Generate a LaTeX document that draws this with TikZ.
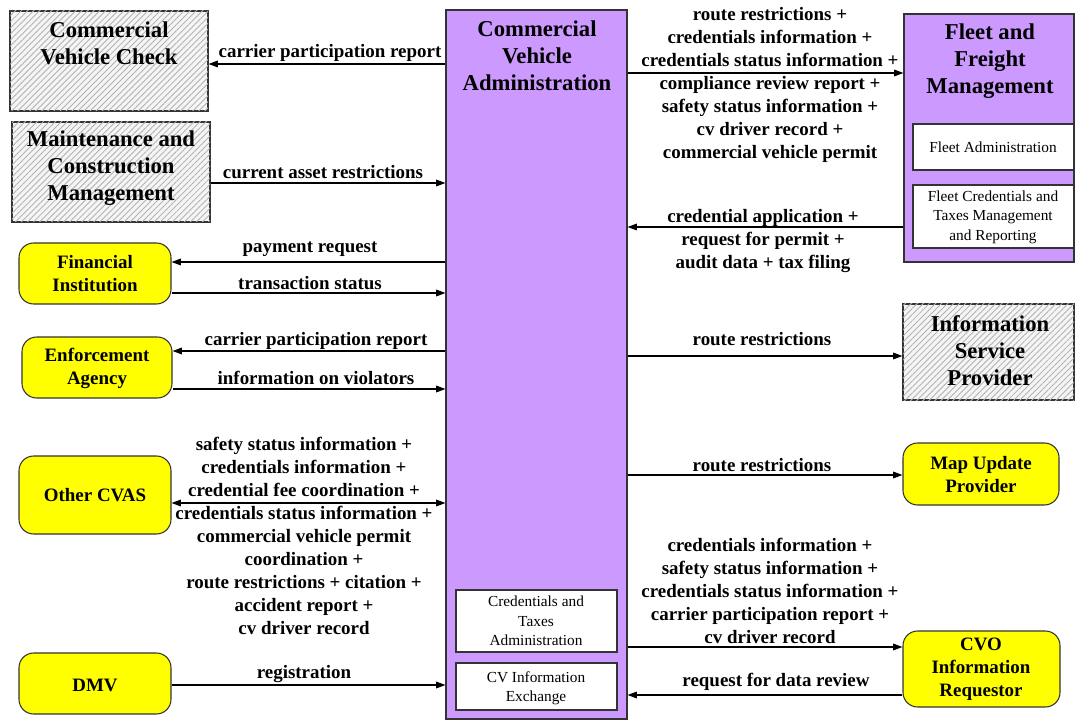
\documentclass[tikz,border=0pt]{standalone}
\usepackage{fontspec}
\setmainfont{Liberation Serif}
\usetikzlibrary{arrows.meta,patterns.meta,fit}
\definecolor{cvapurple}{RGB}{204,153,255}
\definecolor{termyellow}{RGB}{255,255,0}
\definecolor{hatchgray}{RGB}{178,178,178}

\begin{document}
\begin{tikzpicture}[x=0.75pt,y=-0.75pt,
  every node/.style={inner sep=0pt},
  boxline/.style={draw=black!80, line width=0.8pt},
  hatchbox/.style={boxline, fill=black!4,
    postaction={pattern={Lines[angle=45,distance=3.2pt,line width=0.65pt]}, pattern color=hatchgray}},
  purplebox/.style={boxline, fill=cvapurple},
  termbox/.style={boxline, fill=termyellow, rounded corners=11pt},
  subbox/.style={boxline, fill=white},
  titlefont/.style={font=\fontsize{17}{20.25}\selectfont\bfseries, align=center},
  labelfont/.style={font=\fontsize{14.2}{17.25}\selectfont\bfseries, align=center},
  subfont/.style={font=\fontsize{11.5}{14.6}\selectfont, align=center},
  flow/.style={line width=0.8pt, -{Triangle[length=7pt,width=5pt]}},
  dflow/.style={line width=0.8pt, {Triangle[length=7pt,width=5pt]}-{Triangle[length=7pt,width=5pt]}}
]
\useasboundingbox (0,0) rectangle (1075,720);

% ---------- central element ----------
\node[purplebox, fit={(446,10) (627,719)}] (cva) {};
\node[titlefont] (cvat) at (537,56) {Commercial\\Vehicle\\Administration};
\node[subbox, fit={(456,590) (617,652)}] (cta) {};
\node[subfont] (ctat) at (536,621) {Credentials and\\Taxes\\Administration};
\node[subbox, fit={(456,663) (617,710)}] (cvie) {};
\node[subfont] (cviet) at (536,688) {CV Information\\Exchange};

% ---------- left side ----------
\node[hatchbox, fit={(10,11) (208,111)}] (cvc) {};
\node[titlefont] (cvct) at (109,43) {Commercial\\Vehicle Check};
\node[hatchbox, fit={(12,122) (210,222)}] (mcm) {};
\node[titlefont] (mcmt) at (111,168) {Maintenance and\\Construction\\Management};

\node[termbox, fit={(19,243) (171,304)}] (fi) {};
\node[labelfont] (fit) at (95,274) {Financial\\Institution};
\node[termbox, fit={(22,337) (172,398)}] (ea) {};
\node[labelfont] (eat) at (97,368) {Enforcement\\Agency};
\node[termbox, fit={(19,456) (171,534)}] (ocvas) {};
\node[labelfont] (ocvast) at (95,495) {Other CVAS};
\node[termbox, fit={(19,653) (171,714)}] (dmv) {};
\node[labelfont] (dmvt) at (95,685) {DMV};

% ---------- right side ----------
\node[purplebox, fit={(904,14) (1074,262)}] (ffm) {};
\node[titlefont] (ffmt) at (990,61) {Fleet and\\Freight\\Management};
\node[subbox, fit={(913,124) (1074,170)}] (fa) {};
\node[subfont] (fat) at (993,147) {Fleet Administration};
\node[subbox, fit={(913,185) (1074,248)}] (fctm) {};
\node[subfont] (fctmt) at (993,217) {Fleet Credentials and\\Taxes Management\\and Reporting};

\node[hatchbox, fit={(903,304) (1074,400)}] (isp) {};
\node[titlefont] (ispt) at (990,351) {Information\\Service\\Provider};
\node[termbox, fit={(903,443) (1059,505)}] (mup) {};
\node[labelfont] (mupt) at (981,475) {Map Update\\Provider};
\node[termbox, fit={(903,631) (1060,707)}] (cvo) {};
\node[labelfont] (cvot) at (981,669) {CVO\\Information\\Requestor};

% ---------- flows, left side ----------
\draw[flow] (cva.west |- 0,64) -- (cvc.east |- 0,64);
\node[labelfont] (l1) at (330,53) {carrier participation report};
\draw[flow] (mcm.east |- 0,183) -- (cva.west |- 0,183);
\node[labelfont] (l2) at (323,172) {current asset restrictions};
\draw[flow] (cva.west |- 0,262) -- (fi.east |- 0,262);
\node[labelfont] (l3) at (310,249) {payment request};
\draw[flow] (fi.east |- 0,293) -- (cva.west |- 0,293);
\node[labelfont] (l4) at (310,283) {transaction status};
\draw[flow] (cva.west |- 0,351) -- (ea.east |- 0,351);
\node[labelfont] (l5) at (316,341) {carrier participation report};
\draw[flow] (ea.east |- 0,389) -- (cva.west |- 0,389);
\node[labelfont] (l6) at (316,378) {information on violators};
\draw[dflow] (ocvas.east |- 0,503) -- (cva.west |- 0,503);
\node[labelfont] (l7) at (304,536) {safety status information +\\credentials information +\\credential fee coordination +\\credentials status information +\\commercial vehicle permit\\coordination +\\route restrictions + citation +\\accident report +\\cv driver record};
\draw[flow] (dmv.east |- 0,685) -- (cva.west |- 0,685);
\node[labelfont] (l8) at (304,674) {registration};

% ---------- flows, right side ----------
\draw[flow] (cva.east |- 0,73) -- (ffm.west |- 0,73);
\node[labelfont] (r1) at (770,85) {route restrictions +\\credentials information +\\credentials status information +\\compliance review report +\\safety status information +\\cv driver record +\\commercial vehicle permit};
\draw[flow] (ffm.west |- 0,227) -- (cva.east |- 0,227);
\node[labelfont] (r2) at (763,241) {credential application +\\request for permit +\\audit data + tax filing};
\draw[flow] (cva.east |- 0,356) -- (isp.west |- 0,356);
\node[labelfont] (r3) at (762,339) {route restrictions};
\draw[flow] (cva.east |- 0,475) -- (mup.west |- 0,475);
\node[labelfont] (r4) at (762,465) {route restrictions};
\draw[flow] (cva.east |- 0,647) -- (cvo.west |- 0,647);
\node[labelfont] (r5) at (770,591) {credentials information +\\safety status information +\\credentials status information +\\carrier participation report +\\cv driver record};
\draw[flow] (cvo.west |- 0,695) -- (cva.east |- 0,695);
\node[labelfont] (r6) at (776,682) {request for data review};
\end{tikzpicture}
\end{document}
